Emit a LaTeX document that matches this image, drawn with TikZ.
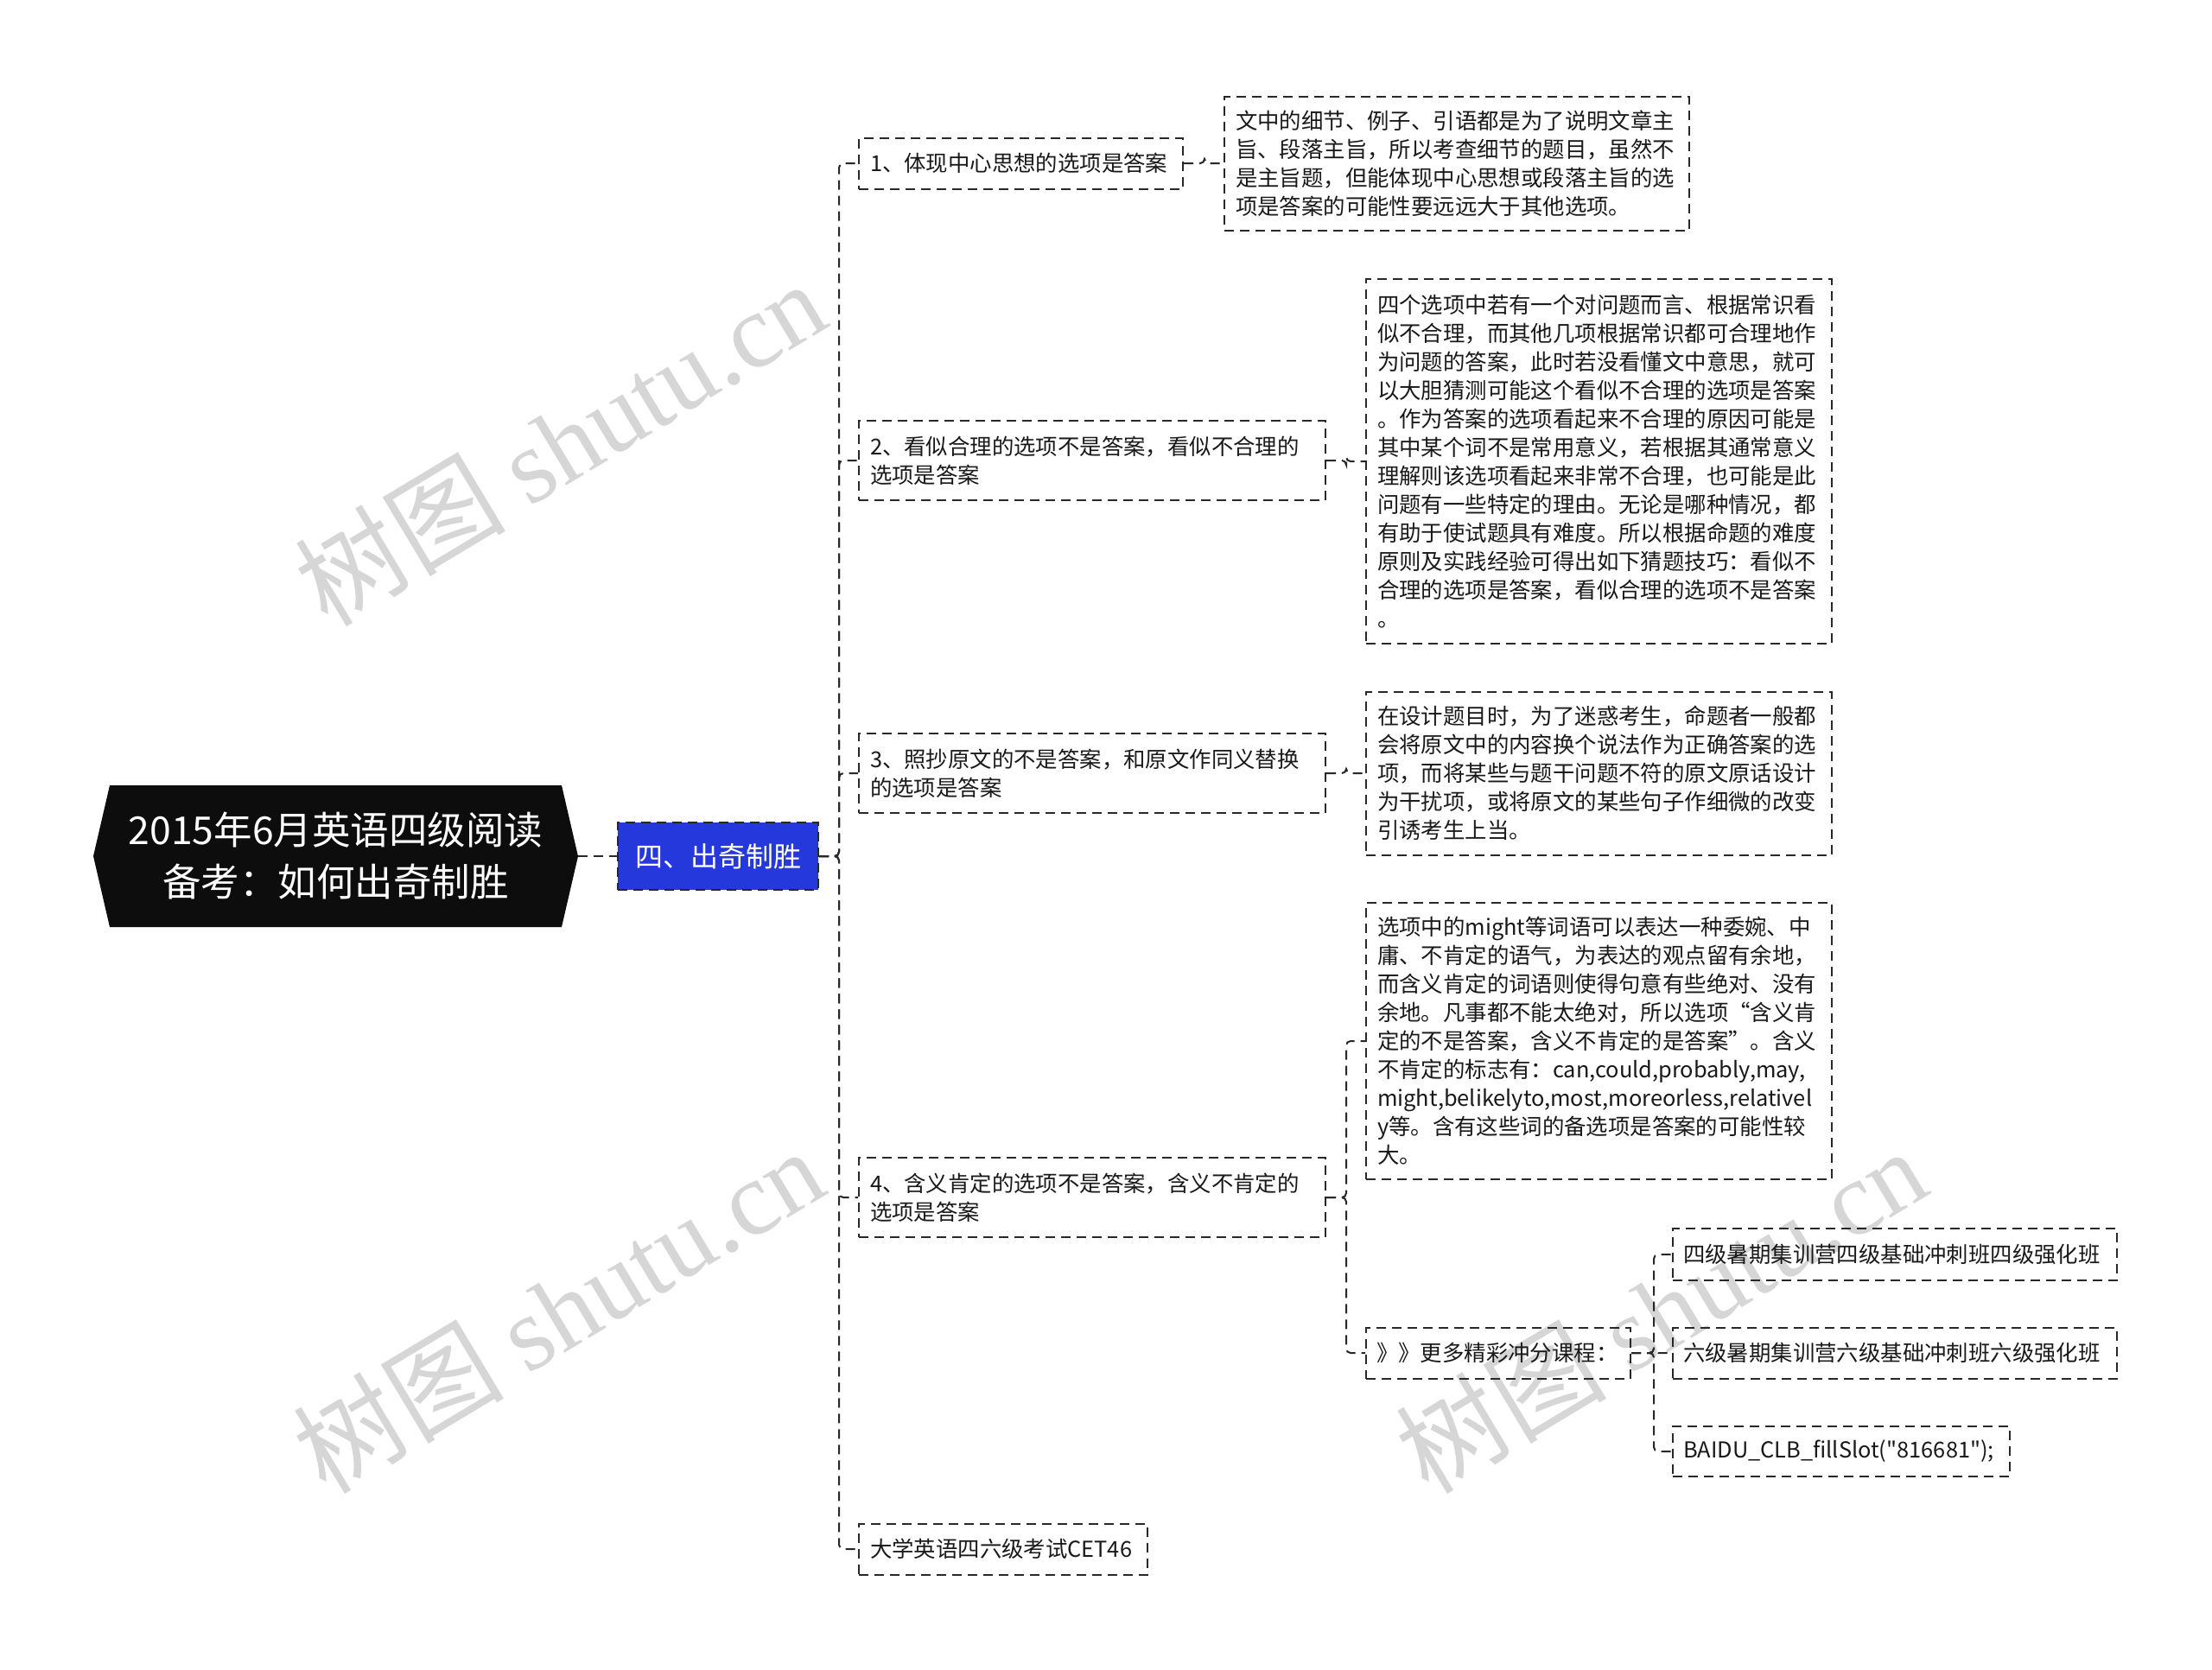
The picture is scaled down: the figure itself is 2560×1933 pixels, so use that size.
\documentclass[tikz,border=0pt]{standalone}
\usepackage{fontspec}
\newfontfamily\cjk{Noto Sans CJK SC}
\newfontfamily\wmlat{Liberation Serif}
\definecolor{mainblue}{RGB}{37,56,220}
\definecolor{linec}{RGB}{40,40,40}
\definecolor{wmgray}{RGB}{214,214,214}
\begin{document}
\begin{tikzpicture}[x=1pt,y=-1pt,
  every node/.style={font=\cjk\fontsize{25.4}{33}\selectfont},
  box/.style={draw=linec, line width=2pt, dash pattern=on 11pt off 7pt, anchor=west, align=left, inner xsep=13pt, inner ysep=0pt, text=black!90},
  conn/.style={draw=linec, line width=2pt, dash pattern=on 11pt off 7pt, rounded corners=5pt},
  wm/.style={rotate=31, text=wmgray, font=\cjk\fontsize{122}{122}\selectfont},
]
\useasboundingbox (0,0) rectangle (2560,1933);
\fill[white] (0,0) rectangle (2560,1933);

% watermarks
\node[wm] (wm1) at (648,512) {树图 {\wmlat shutu.cn}};
\node[wm] (wm2) at (646,1516) {树图 {\wmlat shutu.cn}};
\node[wm] (wm3) at (1922,1516) {树图 {\wmlat shutu.cn}};

% root
\fill[black!95] (108,991) -- (127,909) -- (650,909) -- (669,991) -- (650,1073) -- (127,1073) -- cycle;
\node[text=white, align=center, font=\cjk\fontsize{44.5}{60}\selectfont] (root) at (388.5,991) {2015年6月英语四级阅读\\备考：如何出奇制胜};
\coordinate (rootE) at (669,991);

% main topic
\node[draw=linec, line width=2pt, dash pattern=on 11pt off 7pt, fill=mainblue, text=white, minimum width=232pt, minimum height=78pt, inner sep=0pt, font=\cjk\fontsize{32}{36}\selectfont] (main) at (831,991) {四、出奇制胜};

% level 2
\node[box, text width=349pt, minimum height=59pt] (i1) at (993,189) {1、体现中心思想的选项是答案};
\node[box, text width=514pt, minimum height=92pt] (i2) at (993,533) {2、看似合理的选项不是答案，看似不合理的\\选项是答案};
\node[box, text width=514pt, minimum height=92pt] (i3) at (993,895) {3、照抄原文的不是答案，和原文作同义替换\\的选项是答案};
\node[box, text width=514pt, minimum height=92pt] (i4) at (993,1386) {4、含义肯定的选项不是答案，含义不肯定的\\选项是答案};
\node[box, text width=308pt, minimum height=59pt] (i5) at (993,1793) {大学英语四六级考试CET46};

% level 3
\node[box, text width=512pt, minimum height=155pt] (d1) at (1416,189) {文中的细节、例子、引语都是为了说明文章主\\旨、段落主旨，所以考查细节的题目，虽然不\\是主旨题，但能体现中心思想或段落主旨的选\\项是答案的可能性要远远大于其他选项。};
\node[box, text width=513pt, minimum height=422pt] (d2) at (1580,534) {四个选项中若有一个对问题而言、根据常识看\\似不合理，而其他几项根据常识都可合理地作\\为问题的答案，此时若没看懂文中意思，就可\\以大胆猜测可能这个看似不合理的选项是答案\\。作为答案的选项看起来不合理的原因可能是\\其中某个词不是常用意义，若根据其通常意义\\理解则该选项看起来非常不合理，也可能是此\\问题有一些特定的理由。无论是哪种情况，都\\有助于使试题具有难度。所以根据命题的难度\\原则及实践经验可得出如下猜题技巧：看似不\\合理的选项是答案，看似合理的选项不是答案\\。};
\node[box, text width=513pt, minimum height=189pt] (d3) at (1580,895) {在设计题目时，为了迷惑考生，命题者一般都\\会将原文中的内容换个说法作为正确答案的选\\项，而将某些与题干问题不符的原文原话设计\\为干扰项，或将原文的某些句子作细微的改变\\引诱考生上当。};
\node[box, text width=513pt, minimum height=320pt] (d4) at (1580,1205) {选项中的might等词语可以表达一种委婉、中\\庸、不肯定的语气，为表达的观点留有余地，\\而含义肯定的词语则使得句意有些绝对、没有\\余地。凡事都不能太绝对，所以选项“含义肯\\定的不是答案，含义不肯定的是答案”。含义\\不肯定的标志有：can,could,probably,may,\\might,belikelyto,most,moreorless,relativel\\y等。含有这些词的备选项是答案的可能性较\\大。};
\node[box, text width=282pt, inner xsep=12pt, minimum height=59pt] (more) at (1580,1566) {》》更多精彩冲分课程：};

% level 4
\node[box, text width=490pt, inner xsep=12pt, minimum height=60pt] (c1) at (1935,1452) {四级暑期集训营四级基础冲刺班四级强化班};
\node[box, text width=490pt, inner xsep=12pt, minimum height=59pt] (c2) at (1935,1566) {六级暑期集训营六级基础冲刺班六级强化班};
\node[box, text width=366pt, inner xsep=12pt, minimum height=58pt] (c3) at (1935,1680) {BAIDU\_CLB\_fillSlot("816681");};

% connectors
\draw[conn] (rootE) -- (main.west);
\foreach \t in {i1,i2,i3,i4,i5} \draw[conn] (main.east) -- ++(23,0) |- (\t.west);
\draw[conn] (i1.east) -- ++(24,0) |- (d1.west);
\draw[conn] (i2.east) -- ++(23,0) |- (d2.west);
\draw[conn] (i3.east) -- ++(23,0) |- (d3.west);
\foreach \t in {d4,more} \draw[conn] (i4.east) -- ++(23,0) |- (\t.west);
\foreach \t in {c1,c2,c3} \draw[conn] (more.east) -- ++(26,0) |- (\t.west);
\end{tikzpicture}
\end{document}
